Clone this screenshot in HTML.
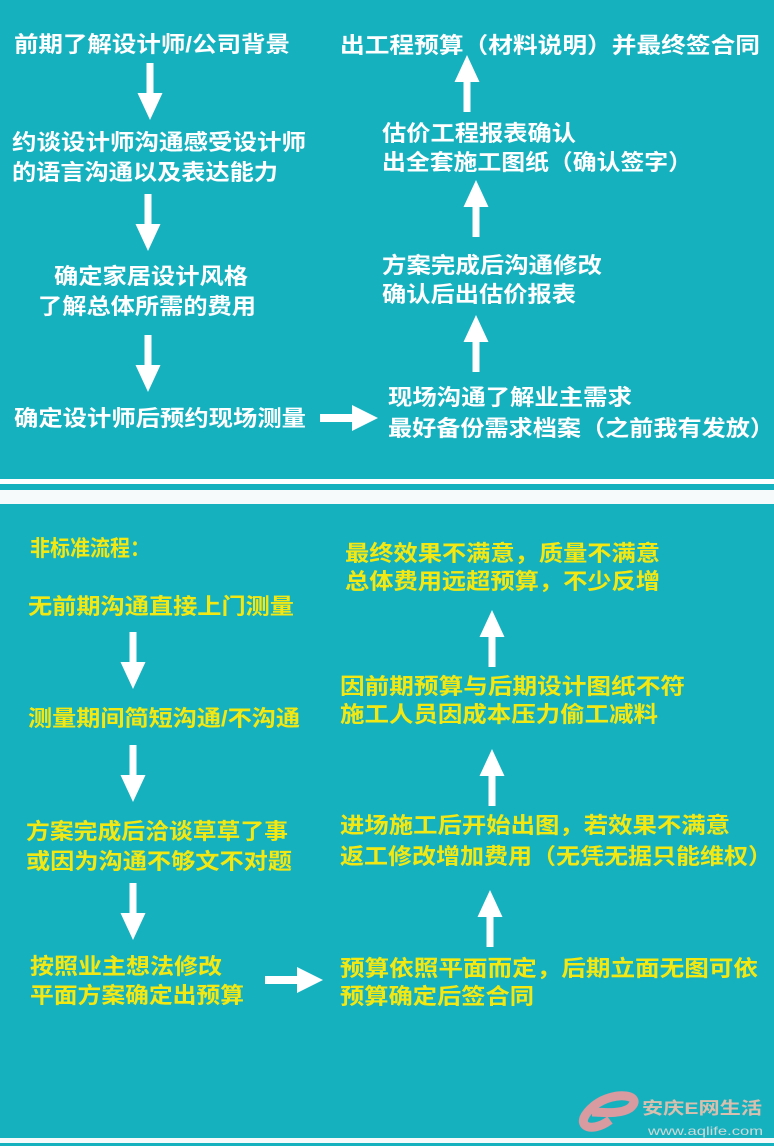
<!DOCTYPE html>
<html><head><meta charset="utf-8"><style>
html,body{margin:0;padding:0;background:#16b1bf;}
svg{display:block;}
text{font-family:"Liberation Sans","Noto Sans CJK SC",sans-serif;font-weight:bold;font-size:22px;}
.w{fill:#fff;} .y{fill:#f4e812;}
</style></head><body>
<svg width="774" height="1146" viewBox="0 0 774 1146" xmlns="http://www.w3.org/2000/svg">
<defs>
<g id="ad"><polygon points="-3.5,0 3.5,0 3.5,30 12.5,30 0,57 -12.5,30 -3.5,30" fill="#fff"/></g>
</defs>
<rect width="774" height="1146" fill="#16b1bf"/>
<rect x="0" y="479" width="774" height="5" fill="#fff"/>
<rect x="0" y="490" width="774" height="14" fill="#f6fafb"/>
<rect x="0" y="1138" width="774" height="5" fill="#f6fafb"/>

<!-- top left -->
<text class="w" x="14" y="52" textLength="276" lengthAdjust="spacingAndGlyphs">前期了解设计师/公司背景</text>
<use href="#ad" x="150" y="63"/>
<text class="w" x="12" y="150" textLength="294" lengthAdjust="spacingAndGlyphs">约谈设计师沟通感受设计师</text>
<text class="w" x="12" y="180" textLength="266" lengthAdjust="spacingAndGlyphs">的语言沟通以及表达能力</text>
<use href="#ad" x="148" y="194"/>
<text class="w" x="54" y="284" textLength="194" lengthAdjust="spacingAndGlyphs">确定家居设计风格</text>
<text class="w" x="38" y="314" textLength="218" lengthAdjust="spacingAndGlyphs">了解总体所需的费用</text>
<use href="#ad" x="148" y="335"/>
<text class="w" x="14" y="426" textLength="292" lengthAdjust="spacingAndGlyphs">确定设计师后预约现场测量</text>
<polygon points="320,414 352,414 352,405 378,418 352,431 352,422 320,422" fill="#fff"/>

<!-- top right -->
<text class="w" x="340" y="53" textLength="420" lengthAdjust="spacingAndGlyphs">出工程预算（材料说明）并最终签合同</text>
<use href="#ad" transform="translate(467,112) scale(1,-1)"/>
<text class="w" x="382" y="141" textLength="194" lengthAdjust="spacingAndGlyphs">估价工程报表确认</text>
<text class="w" x="382" y="170" textLength="310" lengthAdjust="spacingAndGlyphs">出全套施工图纸（确认签字）</text>
<use href="#ad" transform="translate(476,237) scale(1,-1)"/>
<text class="w" x="382" y="273" textLength="220" lengthAdjust="spacingAndGlyphs">方案完成后沟通修改</text>
<text class="w" x="382" y="302" textLength="194" lengthAdjust="spacingAndGlyphs">确认后出估价报表</text>
<use href="#ad" transform="translate(476,372) scale(1,-1)"/>
<text class="w" x="388" y="405" textLength="244" lengthAdjust="spacingAndGlyphs">现场沟通了解业主需求</text>
<text class="w" x="388" y="436" textLength="386" lengthAdjust="spacingAndGlyphs">最好备份需求档案（之前我有发放）</text>

<!-- bottom left -->
<text class="y" x="30" y="556" textLength="120" lengthAdjust="spacingAndGlyphs">非标准流程：</text>
<text class="y" x="28" y="614" textLength="266" lengthAdjust="spacingAndGlyphs">无前期沟通直接上门测量</text>
<use href="#ad" x="133" y="632"/>
<text class="y" x="28" y="726" textLength="272" lengthAdjust="spacingAndGlyphs">测量期间简短沟通/不沟通</text>
<use href="#ad" x="133" y="745"/>
<text class="y" x="26" y="839" textLength="262" lengthAdjust="spacingAndGlyphs">方案完成后洽谈草草了事</text>
<text class="y" x="26" y="869" textLength="266" lengthAdjust="spacingAndGlyphs">或因为沟通不够文不对题</text>
<use href="#ad" x="133" y="883"/>
<text class="y" x="30" y="974" textLength="192" lengthAdjust="spacingAndGlyphs">按照业主想法修改</text>
<text class="y" x="30" y="1003" textLength="214" lengthAdjust="spacingAndGlyphs">平面方案确定出预算</text>
<polygon points="265,976 297,976 297,967 323,980 297,993 297,984 265,984" fill="#fff"/>

<!-- bottom right -->
<text class="y" x="345" y="561" textLength="315" lengthAdjust="spacingAndGlyphs">最终效果不满意，质量不满意</text>
<text class="y" x="345" y="589" textLength="315" lengthAdjust="spacingAndGlyphs">总体费用远超预算，不少反增</text>
<use href="#ad" transform="translate(492,667) scale(1,-1)"/>
<text class="y" x="340" y="694" textLength="345" lengthAdjust="spacingAndGlyphs">因前期预算与后期设计图纸不符</text>
<text class="y" x="340" y="722" textLength="318" lengthAdjust="spacingAndGlyphs">施工人员因成本压力偷工减料</text>
<use href="#ad" transform="translate(492,806) scale(1,-1)"/>
<text class="y" x="340" y="833" textLength="390" lengthAdjust="spacingAndGlyphs">进场施工后开始出图，若效果不满意</text>
<text class="y" x="340" y="864" textLength="432" lengthAdjust="spacingAndGlyphs">返工修改增加费用（无凭无据只能维权）</text>
<use href="#ad" transform="translate(490,947) scale(1,-1)"/>
<text class="y" x="340" y="976" textLength="418" lengthAdjust="spacingAndGlyphs">预算依照平面而定，后期立面无图可依</text>
<text class="y" x="340" y="1004" textLength="194" lengthAdjust="spacingAndGlyphs">预算确定后签合同</text>

<!-- watermark -->
<path d="M610,1120 C590,1135 570,1125 595,1105 C615,1090 645,1095 630,1108 C620,1115 600,1112 592,1112" fill="none" stroke="#d99aa0" stroke-width="9"/>
<text x="642" y="1114" fill="#d9bfae" style="font-size:17px" textLength="120" lengthAdjust="spacingAndGlyphs">安庆E网生活</text>
<text x="648" y="1135" fill="#cfd9d6" style="font-size:12px;font-weight:normal" textLength="115" lengthAdjust="spacingAndGlyphs">www.aqlife.com</text>
</svg>
</body></html>
